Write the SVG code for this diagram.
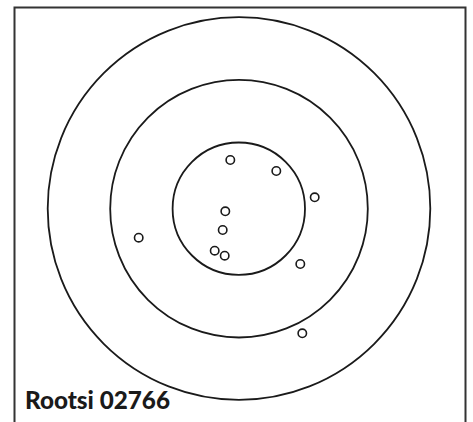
<svg xmlns="http://www.w3.org/2000/svg" width="473" height="422" viewBox="0 0 473 422">
<style>
.ring{fill:none;stroke:#1a1a1a;stroke-width:1.8}
.hit{fill:#fff;stroke:#1a1a1a;stroke-width:1.6}
.lbl{font-family:Lato,"Open Sans","DejaVu Sans",sans-serif;font-weight:900;font-size:24px;fill:#1a1a1a}
</style>
<rect width="473" height="422" fill="#fff"/>
<rect x="14.5" y="7.5" width="451" height="420" fill="none" stroke="#333" stroke-width="2"/>
<g id="rings">
<circle class="ring" cx="239" cy="208.5" r="191.3"/>
<circle class="ring" cx="239" cy="208.7" r="128.8"/>
<circle class="ring" cx="238.8" cy="208.7" r="66.2"/>
</g>
<g id="hits">
<circle class="hit" cx="230.3" cy="160" r="4.2"/>
<circle class="hit" cx="276.3" cy="171" r="4.2"/>
<circle class="hit" cx="314.7" cy="197.3" r="4.2"/>
<circle class="hit" cx="225.3" cy="211.3" r="4.2"/>
<circle class="hit" cx="222.7" cy="230" r="4.2"/>
<circle class="hit" cx="214.7" cy="250.7" r="4.2"/>
<circle class="hit" cx="224.7" cy="255.7" r="4.2"/>
<circle class="hit" cx="138.7" cy="237.7" r="4.2"/>
<circle class="hit" cx="300.3" cy="264" r="4.2"/>
<circle class="hit" cx="302.3" cy="333.3" r="4.2"/>
</g>
<text class="lbl" x="25" y="409" textLength="145" lengthAdjust="spacingAndGlyphs">Rootsi 02766</text>
</svg>
